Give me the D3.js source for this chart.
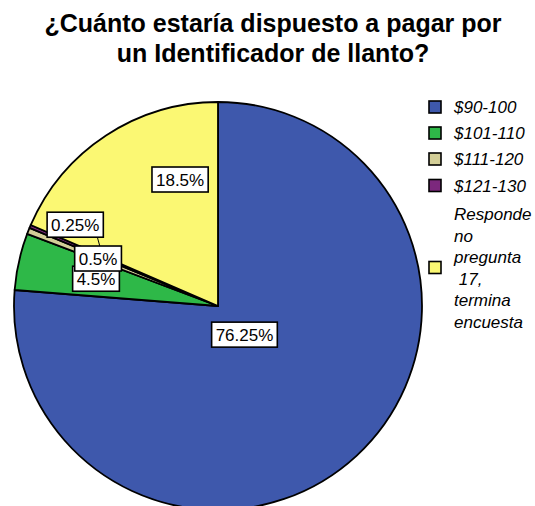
<!DOCTYPE html>
<html>
<head>
<meta charset="utf-8">
<script src="https://cdn.jsdelivr.net/npm/d3@7"></script>
<style>
    body { margin: 0; background: #fff; }
    text { font-family: "Liberation Sans", Arial, sans-serif; }
</style>
</head>
<body>
<div class="chart"></div>
<script>
let svgWidth = 535;
let svgHeight = 506;

// data
let categories = ["$90-100", "$101-110", "$111-120", "$121-130", "Responde no pregunta 17, termina encuesta"];
let percents = [76.25, 4.5, 0.5, 0.25, 18.5];
let percentLabels = ["76.25%", "4.5%", "0.5%", "0.25%", "18.5%"];
let legendLines = [["$90-100"], ["$101-110"], ["$111-120"], ["$121-130"],
    ["Responde", "no", "pregunta", " 17,", "termina", "encuesta"]];
let titleLines = ["¿Cuánto estaría dispuesto a pagar por", "un Identificador de llanto?"];

let colors = ["#3e58ac", "#2eb848", "#d3ce97", "#7c287d", "#fbf873"];

let cx = 218, cy = 306, radius = 204;

// label placement: radius along slice middle, plus a nudge
let labelRadius = [39, 125, 129, 129, 131];
let labelNudge = [[0, 0], [0, 0], [0, 0], [-24, -31], [34, -17]];

let svg = d3.select(".chart")
    .append("svg")
    .attr("width", svgWidth)
    .attr("height", svgHeight);

// title
svg.append("g")
    .selectAll("text")
    .data(titleLines)
    .enter()
    .append("text")
    .attr("x", 273)
    .attr("y", (d, i) => 32 + i * 30)
    .attr("text-anchor", "middle")
    .attr("font-size", 25)
    .attr("font-weight", "bold")
    .text(d => d);

let pie = d3.pie().sort(null).value(d => d);
let arcs = pie(percents);

let arc = d3.arc().innerRadius(0).outerRadius(radius);

let pieGroup = svg.append("g")
    .attr("transform", `translate(${cx}, ${cy})`);

pieGroup.selectAll("path")
    .data(arcs)
    .enter()
    .append("path")
    .attr("d", arc)
    .attr("fill", (d, i) => colors[i])
    .attr("stroke", "#000")
    .attr("stroke-width", 1.8)
    .attr("stroke-linejoin", "round");

function labelPoint(d, i) {
    let a = d3.arc().innerRadius(labelRadius[i]).outerRadius(labelRadius[i]);
    let c = a.centroid(d);
    return [c[0] + labelNudge[i][0], c[1] + labelNudge[i][1]];
}

// leader line for the smallest slice
let small = arcs[3];
let smallP = labelPoint(small, 3);
let target = d3.arc().innerRadius(125).outerRadius(125).centroid(small);
pieGroup.append("line")
    .attr("x1", smallP[0] + 22)
    .attr("y1", smallP[1] + 12)
    .attr("x2", target[0])
    .attr("y2", target[1])
    .attr("stroke", "#000")
    .attr("stroke-width", 1);

let labels = pieGroup.selectAll(".label")
    .data(arcs)
    .enter()
    .append("g")
    .attr("class", "label")
    .attr("transform", (d, i) => {
        let p = labelPoint(d, i);
        return `translate(${p[0]}, ${p[1]})`;
    });

labels.append("rect");
labels.append("text")
    .attr("text-anchor", "middle")
    .attr("dy", "0.36em")
    .attr("font-size", 17)
    .text((d, i) => percentLabels[i]);

labels.each(function () {
    let g = d3.select(this);
    let w = g.select("text").node().getComputedTextLength();
    g.select("rect")
        .attr("x", -w / 2 - 4)
        .attr("y", -12.5)
        .attr("width", w + 8)
        .attr("height", 25)
        .attr("fill", "#fff")
        .attr("stroke", "#000")
        .attr("stroke-width", 1.6);
});

// legend
let legendY = [107.5, 133.5, 159.5, 186, 268];
let lineH = 21.6;

let legend = svg.append("g")
    .selectAll("g")
    .data(categories)
    .enter()
    .append("g")
    .attr("transform", (d, i) => `translate(429, ${legendY[i]})`);

legend.append("rect")
    .attr("x", 0)
    .attr("y", -6.5)
    .attr("width", 12)
    .attr("height", 12)
    .attr("fill", (d, i) => colors[i])
    .attr("stroke", "#000")
    .attr("stroke-width", 1.6);

legend.each(function (d, i) {
    let lines = legendLines[i];
    let top = -(lines.length - 1) * lineH / 2;
    d3.select(this).selectAll("text")
        .data(lines)
        .enter()
        .append("text")
        .attr("x", 25)
        .attr("y", (t, j) => top + j * lineH)
        .attr("dy", "0.35em")
        .attr("font-size", 17)
        .attr("font-style", "italic")
        .attr("xml:space", "preserve")
        .style("white-space", "pre")
        .text(t => t);
});
</script>
</body>
</html>
